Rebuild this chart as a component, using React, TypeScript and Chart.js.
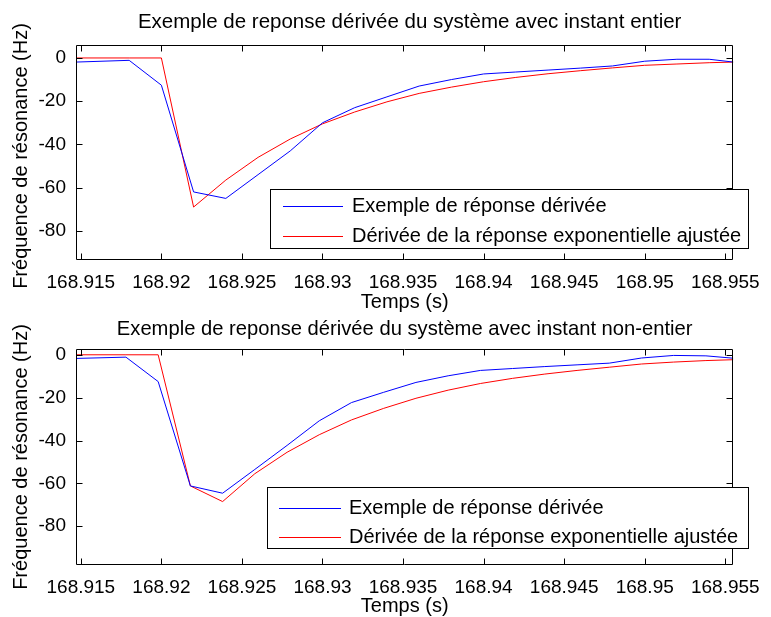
import React, { useEffect, useRef } from 'react';
import { Chart, registerables } from 'chart.js';

Chart.register(...registerables);

// ---------- data ----------
const xMin = 168.9147;
const xMax = 168.9555;
const xTickValues = [168.915, 168.92, 168.925, 168.93, 168.935, 168.94, 168.945, 168.95, 168.955];
const yTickValues = [-80, -60, -40, -20, 0];

const seriesNames = ['Exemple de réponse dérivée', 'Dérivée de la réponse exponentielle ajustée'];
const titleTop = 'Exemple de reponse dérivée du système avec instant entier';
const titleBottom = 'Exemple de reponse dérivée du système avec instant non-entier';
const xAxisLabel = 'Temps (s)';
const yAxisLabel = 'Fréquence de résonance (Hz)';

const timesTop = [168.9147, 168.918, 168.92, 168.922, 168.924, 168.926, 168.928, 168.93, 168.932, 168.934, 168.936, 168.938, 168.94, 168.942, 168.944, 168.946, 168.948, 168.95, 168.952, 168.954, 168.9555];
const blueTop = [-1.9, -1.1, -12.6, -62, -65, -54, -43, -30, -23, -18, -13, -10, -7.4, -6.5, -5.6, -4.7, -3.7, -1.5, -0.6, -0.6, -1.9];
const redTop = [0, 0, 0, -69, -56.5, -46, -37.5, -30.5, -25, -20.3, -16.4, -13.5, -11, -9, -7.3, -5.9, -4.6, -3.4, -2.8, -2.2, -1.9];

const timesBottom = [168.9147, 168.9178, 168.9198, 168.9218, 168.9238, 168.9258, 168.9278, 168.9298, 168.9318, 168.9338, 168.9358, 168.9378, 168.9398, 168.9418, 168.9438, 168.9458, 168.9478, 168.9498, 168.9518, 168.9538, 168.9555];
const blueBottom = [-1.7, -1.1, -12.5, -61.2, -64.6, -53.5, -42.3, -30.8, -22.3, -17.5, -12.9, -9.8, -7.3, -6.4, -5.5, -4.7, -3.9, -1.5, -0.3, -0.5, -1.6];
const redBottom = [0, 0, 0, -61.2, -68.5, -55.5, -45.5, -37.3, -30.4, -25, -20.3, -16.5, -13.4, -11, -9, -7.3, -5.8, -4.3, -3.4, -2.7, -2.3];

// ---------- layout / style ----------
const W = 771;
const FONT = '"Liberation Sans", Arial, Helvetica, sans-serif';
const TICK_FONT_SIZE = 19;
const LABEL_FONT_SIZE = 20;
const TICK_LEN = 6;

type Panel = {
  top: number;
  height: number;
  times: number[];
  blue: number[];
  red: number[];
  title: string;
  titleSize: number;
  titleDX: number;
  yMin: number;
  yMax: number;
  area: { left: number; right: number; top: number; bottom: number };
  titleY: number;
  xLabelY: number;
  yLabelY: number;
  legend: { x: number; y: number; w: number; h: number; lineX1: number; lineX2: number; textX: number; rows: number[] };
};

const panels: Panel[] = [
  {
    top: 0,
    height: 322,
    times: timesTop,
    blue: blueTop,
    red: redTop,
    title: titleTop,
    titleSize: 20.5,
    titleDX: 5,
    yMin: -93.5,
    yMax: 6,
    area: { left: 76, right: 739, top: 45, bottom: 260 },
    titleY: 28,
    xLabelY: 302,
    yLabelY: 156,
    legend: { x: 270, y: 189, w: 479, h: 60, lineX1: 283, lineX2: 343, textX: 352, rows: [206, 236] },
  },
  {
    top: 308,
    height: 309,
    times: timesBottom,
    blue: blueBottom,
    red: redBottom,
    title: titleBottom,
    titleSize: 20.2,
    titleDX: 0,
    yMin: -98.1,
    yMax: 2.7,
    area: { left: 76, right: 739, top: 41, bottom: 257 },
    titleY: 27,
    xLabelY: 298,
    yLabelY: 149,
    legend: { x: 267, y: 179, w: 482, h: 62, lineX1: 279, lineX2: 341, textX: 349, rows: [200, 229] },
  },
];

function fmtX(v: number) {
  return parseFloat(Number(v).toFixed(3)).toString();
}

function makeDecor(p: Panel) {
  return {
    id: 'matlabDecor',
    afterDatasetsDraw(chart: any) {
      const ctx: CanvasRenderingContext2D = chart.ctx;
      const a = chart.chartArea;
      const xs = chart.scales.x;
      const ys = chart.scales.y;
      ctx.save();
      ctx.strokeStyle = '#000';
      ctx.lineWidth = 1;
      const L = Math.round(a.left) + 0.5;
      const R = Math.round(a.right) - 0.5;
      const T = Math.round(a.top) + 0.5;
      const B = Math.round(a.bottom) - 0.5;
      ctx.beginPath();
      ctx.rect(L, T, R - L, B - T);
      ctx.stroke();
      ctx.beginPath();
      for (const v of xTickValues) {
        const px = Math.round(xs.getPixelForValue(v)) + 0.5;
        ctx.moveTo(px, B);
        ctx.lineTo(px, B - TICK_LEN);
        ctx.moveTo(px, T);
        ctx.lineTo(px, T + TICK_LEN);
      }
      for (const v of yTickValues) {
        const py = Math.round(ys.getPixelForValue(v)) + 0.5;
        ctx.moveTo(L, py);
        ctx.lineTo(L + TICK_LEN, py);
        ctx.moveTo(R, py);
        ctx.lineTo(R - TICK_LEN, py);
      }
      ctx.stroke();

      // legend
      const lg = p.legend;
      ctx.fillStyle = '#fff';
      ctx.fillRect(lg.x, lg.y, lg.w, lg.h);
      ctx.strokeStyle = '#000';
      ctx.strokeRect(lg.x + 0.5, lg.y + 0.5, lg.w - 1, lg.h - 1);
      ctx.font = `${LABEL_FONT_SIZE}px ${FONT}`;
      ctx.textBaseline = 'middle';
      ctx.textAlign = 'left';
      chart.data.datasets.forEach((ds: any, i: number) => {
        const y = lg.rows[i] + 0.5;
        ctx.strokeStyle = ds.borderColor;
        ctx.beginPath();
        ctx.moveTo(lg.lineX1, y);
        ctx.lineTo(lg.lineX2, y);
        ctx.stroke();
        ctx.fillStyle = '#000';
        ctx.fillText(ds.label, lg.textX, lg.rows[i]);
      });

      // titles and axis labels
      const cx = (a.left + a.right) / 2;
      ctx.fillStyle = '#000';
      ctx.textAlign = 'center';
      ctx.textBaseline = 'alphabetic';
      ctx.font = `${p.titleSize}px ${FONT}`;
      ctx.fillText(p.title, cx + p.titleDX, p.titleY);
      ctx.font = `${LABEL_FONT_SIZE}px ${FONT}`;
      ctx.textBaseline = 'middle';
      ctx.fillText(xAxisLabel, cx, p.xLabelY);
      ctx.save();
      ctx.translate(21, p.yLabelY);
      ctx.rotate(-Math.PI / 2);
      ctx.fillText(yAxisLabel, 0, 0);
      ctx.restore();
      ctx.restore();
    },
  };
}

function PanelChart({ p }: { p: Panel }) {
  const ref = useRef<HTMLCanvasElement | null>(null);
  useEffect(() => {
    if (!ref.current) return;
    const chart = new Chart(ref.current, {
      type: 'line',
      data: {
        datasets: [
          {
            label: seriesNames[0],
            data: p.times.map((t, i) => ({ x: t, y: p.blue[i] })),
            borderColor: '#0000ff',
            borderWidth: 1,
            pointRadius: 0,
            fill: false,
            tension: 0,
          },
          {
            label: seriesNames[1],
            data: p.times.map((t, i) => ({ x: t, y: p.red[i] })),
            borderColor: '#ff0000',
            borderWidth: 1,
            pointRadius: 0,
            fill: false,
            tension: 0,
          },
        ],
      },
      options: {
        animation: false,
        responsive: false,
        devicePixelRatio: 1,
        events: [],
        layout: { padding: { left: 0, right: W - p.area.right, top: p.area.top, bottom: 0 } },
        plugins: { legend: { display: false }, title: { display: false }, tooltip: { enabled: false } },
        scales: {
          x: {
            type: 'linear',
            min: xMin,
            max: xMax,
            grid: { display: false, drawTicks: false },
            border: { display: false },
            ticks: {
              color: '#000',
              font: { family: FONT, size: TICK_FONT_SIZE },
              padding: 11,
              maxRotation: 0,
              autoSkip: false,
              callback: (v: any) => fmtX(v),
            },
            afterBuildTicks: (s: any) => {
              s.ticks = xTickValues.map((v) => ({ value: v }));
            },
            afterFit: (s: any) => {
              s.height = p.height - p.area.bottom;
            },
          },
          y: {
            type: 'linear',
            min: p.yMin,
            max: p.yMax,
            grid: { display: false, drawTicks: false },
            border: { display: false },
            ticks: {
              color: '#000',
              font: { family: FONT, size: TICK_FONT_SIZE },
              padding: 10,
              autoSkip: false,
              callback: (v: any) => String(v),
            },
            afterBuildTicks: (s: any) => {
              s.ticks = yTickValues.map((v) => ({ value: v }));
            },
            afterFit: (s: any) => {
              s.width = p.area.left;
            },
          },
        },
      },
      plugins: [makeDecor(p)],
    } as any);
    return () => chart.destroy();
  }, [p]);
  return (
    <canvas
      ref={ref}
      width={W}
      height={p.height}
      style={{ position: 'absolute', left: 0, top: p.top, width: W, height: p.height, display: 'block' }}
    />
  );
}

export default function App() {
  return (
    <div style={{ position: 'absolute', left: 0, top: 0, width: W, height: 617, background: '#fff' }}>
      {panels.map((p, i) => (
        <PanelChart key={i} p={p} />
      ))}
    </div>
  );
}
